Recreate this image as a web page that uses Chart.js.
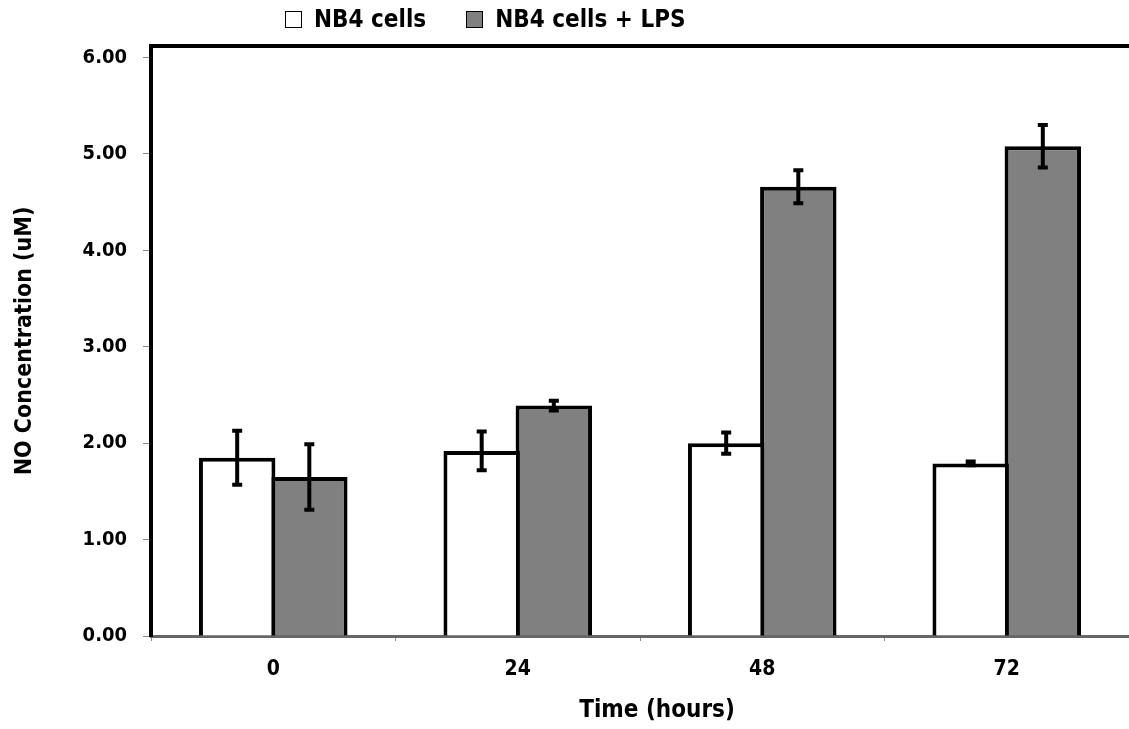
<!DOCTYPE html>
<html>
<head>
<meta charset="utf-8">
<script src="https://cdn.jsdelivr.net/npm/chart.js@4/dist/chart.umd.min.js"></script>
<style>
  html, body { margin: 0; padding: 0; background: #fff; overflow: hidden; }
  #wrap { position: relative; width: 1129px; height: 729px; }
  .txt { font-family: "Liberation Sans Narrow", "DejaVu Sans Condensed", "Liberation Sans", sans-serif; color: #000; white-space: nowrap; position: absolute; }
  #legend { top: 5px; left: 285px; font-size: 24px; font-weight: bold; display: flex; align-items: center; }
  #legend .item { display: flex; align-items: center; margin-right: 40px; }
  #legend .box { width: 15px; height: 15px; border: 1.5px solid #000; margin-right: 12px; }
  #xtitle { top: 695px; left: 0; width: 1314px; text-align: center; font-size: 24px; font-weight: bold; }
</style>
</head>
<body>
<div id="wrap">
  <canvas id="chart" width="1129" height="729"></canvas>
  <div id="legend" class="txt"></div>
  <div id="xtitle" class="txt">Time (hours)</div>
</div>
<script>
// ===== Data =====
const categories = ['0', '24', '48', '72'];
const seriesNames = ['NB4 cells', 'NB4 cells + LPS'];
const nb4Values = [1.85, 1.92, 2.00, 1.79];
const nb4Errors = [0.28, 0.20, 0.11, 0.02];
const lpsValues = [1.65, 2.39, 4.66, 5.08];
const lpsErrors = [0.34, 0.05, 0.17, 0.22];
const yTicks = [0, 1, 2, 3, 4, 5, 6];

const fillColors = ['#ffffff', '#808080'];
const fontFamily = '"Liberation Sans Narrow", "DejaVu Sans Condensed", "Liberation Sans", sans-serif';

// ===== Error bars =====
const errorBars = {
  id: 'errorBars',
  afterDatasetsDraw(chart) {
    const ctx = chart.ctx;
    const y = chart.scales.y;
    chart.data.datasets.forEach((ds, i) => {
      const meta = chart.getDatasetMeta(i);
      meta.data.forEach((bar, j) => {
        const v = ds.data[j], e = ds.errors[j];
        const top = y.getPixelForValue(v + e);
        const bottom = y.getPixelForValue(v - e);
        ctx.save();
        ctx.strokeStyle = '#000';
        ctx.lineWidth = 4;
        ctx.beginPath();
        ctx.moveTo(bar.x, top);
        ctx.lineTo(bar.x, bottom);
        ctx.moveTo(bar.x - 5, top);
        ctx.lineTo(bar.x + 5, top);
        ctx.moveTo(bar.x - 5, bottom);
        ctx.lineTo(bar.x + 5, bottom);
        ctx.stroke();
        ctx.restore();
      });
    });
  }
};

// ===== Chart =====
new Chart(document.getElementById('chart'), {
  type: 'bar',
  data: {
    labels: categories,
    datasets: [
      { label: seriesNames[0], data: nb4Values, errors: nb4Errors, backgroundColor: fillColors[0], borderColor: '#000', borderWidth: 4 },
      { label: seriesNames[1], data: lpsValues, errors: lpsErrors, backgroundColor: fillColors[1], borderColor: '#000', borderWidth: 4 }
    ]
  },
  options: {
    responsive: false,
    devicePixelRatio: 1,
    animation: false,
    layout: { padding: { top: 46, right: 0, bottom: 0, left: 0 } },
    datasets: { bar: { categoryPercentage: 0.59, barPercentage: 1.06 } },
    plugins: { legend: { display: false }, tooltip: { enabled: false } },
    scales: {
      x: {
        grid: { offset: true, drawOnChartArea: false, drawTicks: true, tickLength: 5, color: '#888', tickWidth: 1 },
        border: { color: '#666', width: 3 },
        ticks: { color: '#000', padding: 16, font: { family: fontFamily, size: 21, weight: 'bold' } },
        afterFit(scale) { scale.height = 93; }
      },
      xTop: {
        position: 'top',
        type: 'category',
        labels: categories,
        grid: { display: false, drawTicks: false },
        border: { color: '#000', width: 4 },
        ticks: { display: false },
        afterFit(scale) { scale.height = 0; }
      },
      y: {
        min: 0,
        max: 6.12,
        afterBuildTicks(scale) { scale.ticks = yTicks.map(v => ({ value: v })); },
        grid: { drawOnChartArea: false, drawTicks: true, tickLength: 8, color: '#888' },
        border: { color: '#000', width: 4 },
        ticks: { color: '#000', padding: 16, font: { family: fontFamily, size: 20, weight: 'bold' }, callback: v => v.toFixed(2) },
        title: { display: true, text: 'NO Concentration (uM)', color: '#000', font: { family: fontFamily, size: 23, weight: 'bold' }, padding: { top: 11, bottom: 0 } },
        afterFit(scale) { scale.width = 151; }
      }
    }
  },
  plugins: [errorBars]
});

// ===== Legend =====
const legendEl = document.getElementById('legend');
seriesNames.forEach((name, i) => {
  const item = document.createElement('div');
  item.className = 'item';
  item.innerHTML = `<span class="box" style="background:${fillColors[i]}"></span><span>${name}</span>`;
  legendEl.appendChild(item);
});
</script>
</body>
</html>
